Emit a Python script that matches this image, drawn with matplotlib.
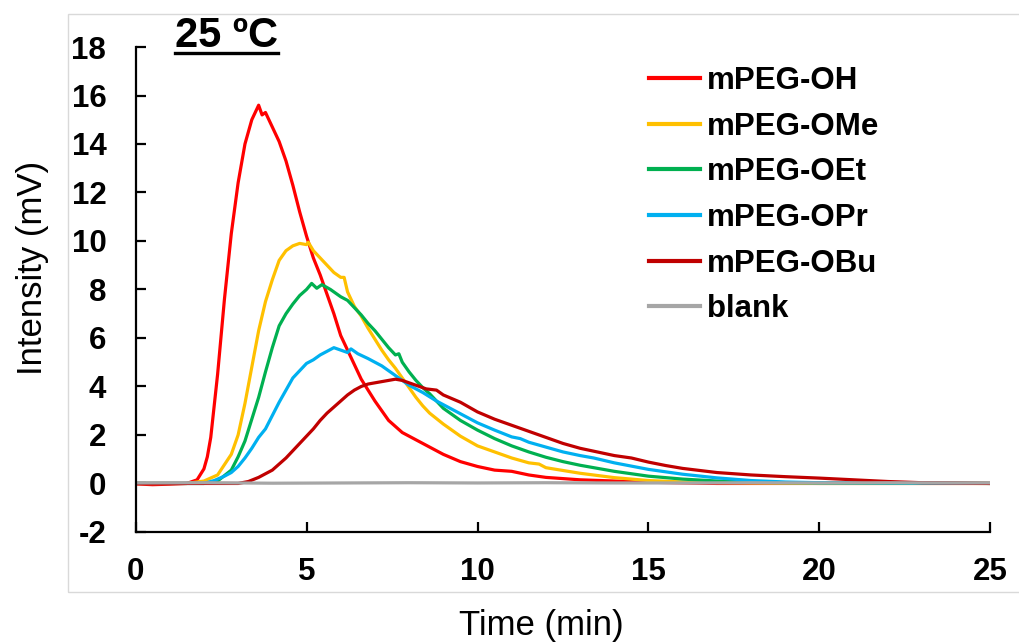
#!/usr/bin/env python3
"""
Release profiles of the mPEG series at 25 ºC
"""

import matplotlib
matplotlib.use("Agg")
import matplotlib.pyplot as plt
from matplotlib.patches import Rectangle
from matplotlib.lines import Line2D

# ---- data ----
t_oh = [0, 0.5, 1.0, 1.5, 1.8, 2.0, 2.1, 2.2, 2.4, 2.6, 2.8, 3.0, 3.2, 3.4, 3.6, 3.7,
        3.8, 4.0, 4.2, 4.4, 4.6, 4.8, 5.0, 5.2, 5.4, 5.6, 5.8, 6.0, 6.3, 6.6, 7.0, 7.4,
        7.8, 8.2, 8.6, 9.0, 9.5, 10.0, 10.5, 11.0, 11.5, 12.0, 13.0, 14.0, 15.0, 17.0,
        20.0, 25.0]
i_oh = [-0.02, -0.05, -0.03, 0.0, 0.15, 0.6, 1.1, 1.9, 4.5, 7.6, 10.3, 12.4, 14.0, 15.0,
        15.6, 15.2, 15.3, 14.7, 14.1, 13.3, 12.3, 11.2, 10.2, 9.3, 8.6, 7.8, 7.0, 6.1,
        5.2, 4.3, 3.4, 2.6, 2.1, 1.8, 1.5, 1.2, 0.9, 0.7, 0.55, 0.5, 0.35, 0.25, 0.15,
        0.1, 0.05, 0.0, 0.0, 0.0]

t_ome = [0, 1.5, 2.0, 2.4, 2.8, 3.0, 3.2, 3.4, 3.6, 3.8, 4.0, 4.2, 4.4, 4.6, 4.8, 5.0,
         5.05, 5.2, 5.4, 5.6, 5.8, 6.0, 6.1, 6.2, 6.4, 6.6, 6.8, 7.0, 7.2, 7.4, 7.6, 7.8,
         8.0, 8.2, 8.4, 8.6, 9.0, 9.5, 10.0, 10.5, 11.0, 11.5, 11.8, 12.0, 13.0, 14.0,
         15.0, 16.0, 18.0, 20.0, 25.0]
i_ome = [0, 0, 0.1, 0.35, 1.2, 2.0, 3.3, 4.8, 6.3, 7.5, 8.4, 9.2, 9.6, 9.8, 9.9, 9.85,
         9.95, 9.6, 9.3, 9.0, 8.7, 8.5, 8.5, 7.9, 7.3, 6.9, 6.4, 5.95, 5.5, 5.1, 4.75,
         4.35, 3.95, 3.55, 3.2, 2.9, 2.45, 1.95, 1.55, 1.3, 1.05, 0.85, 0.8, 0.65, 0.42,
         0.24, 0.12, 0.06, 0.02, 0.0, 0.0]

t_oet = [0, 2.0, 2.4, 2.8, 3.0, 3.2, 3.4, 3.6, 3.8, 4.0, 4.2, 4.4, 4.6, 4.8, 5.0, 5.15,
         5.3, 5.45, 5.7, 6.0, 6.2, 6.4, 6.6, 6.8, 7.0, 7.2, 7.4, 7.6, 7.7, 7.8, 8.0, 8.2,
         8.4, 8.6, 9.0, 9.5, 10.0, 10.5, 11.0, 11.5, 12.0, 12.5, 13.0, 14.0, 15.0, 16.0,
         17.0, 18.0, 20.0, 25.0]
i_oet = [0, 0, 0.1, 0.55, 1.1, 1.75, 2.65, 3.55, 4.6, 5.6, 6.5, 7.0, 7.4, 7.75, 8.0,
         8.25, 8.05, 8.2, 8.0, 7.7, 7.55, 7.25, 6.95, 6.6, 6.3, 5.95, 5.6, 5.3, 5.35, 5.0,
         4.6, 4.25, 3.95, 3.7, 3.1, 2.6, 2.2, 1.85, 1.55, 1.3, 1.08, 0.9, 0.75, 0.5, 0.3,
         0.18, 0.1, 0.05, 0.02, 0.0]

t_opr = [0, 2.0, 2.3, 2.6, 2.8, 3.0, 3.2, 3.4, 3.6, 3.8, 4.0, 4.2, 4.4, 4.6, 4.8, 5.0,
         5.2, 5.4, 5.6, 5.8, 6.0, 6.2, 6.3, 6.5, 6.8, 7.0, 7.2, 7.4, 7.6, 7.8, 8.0, 8.4,
         8.8, 9.2, 9.6, 10.0, 10.5, 11.0, 11.25, 11.5, 12.0, 12.5, 13.0, 13.4, 14.0,
         15.0, 16.0, 17.0, 18.0, 19.0, 20.0, 25.0]
i_opr = [0, 0, 0.12, 0.3, 0.45, 0.7, 1.05, 1.45, 1.9, 2.25, 2.8, 3.35, 3.85, 4.35, 4.65,
         4.95, 5.1, 5.3, 5.45, 5.6, 5.5, 5.4, 5.55, 5.35, 5.15, 5.0, 4.85, 4.65, 4.45,
         4.25, 4.05, 3.75, 3.4, 3.1, 2.8, 2.5, 2.2, 1.92, 1.85, 1.7, 1.5, 1.3, 1.15, 1.05,
         0.85, 0.58, 0.38, 0.23, 0.12, 0.06, 0.03, 0.0]

t_obu = [0, 2.5, 3.0, 3.3, 3.6, 3.8, 4.0, 4.2, 4.4, 4.6, 4.8, 5.0, 5.2, 5.4, 5.6, 5.8,
         6.0, 6.2, 6.4, 6.6, 6.8, 7.0, 7.2, 7.4, 7.6, 7.8, 8.0, 8.2, 8.5, 8.8, 9.0, 9.5,
         10.0, 10.5, 11.0, 11.5, 12.0, 12.5, 13.0, 13.5, 14.0, 14.5, 15.0, 15.5, 16.0,
         17.0, 18.0, 19.0, 20.0, 21.0, 22.0, 23.0, 25.0]
i_obu = [0, 0, 0.0, 0.08, 0.25, 0.4, 0.55, 0.8, 1.05, 1.35, 1.65, 1.95, 2.25, 2.6, 2.9,
         3.15, 3.4, 3.65, 3.85, 4.0, 4.1, 4.15, 4.2, 4.25, 4.3, 4.25, 4.15, 4.05, 3.9,
         3.85, 3.65, 3.35, 2.95, 2.65, 2.4, 2.15, 1.9, 1.65, 1.45, 1.3, 1.15, 1.05, 0.88,
         0.74, 0.62, 0.45, 0.35, 0.28, 0.22, 0.15, 0.08, 0.03, 0.0]

t_blank = [0, 2, 4, 6, 8, 10, 12, 14, 16, 18, 20, 22, 24, 25]
i_blank = [0.02, 0.03, 0.01, 0.02, 0.03, 0.02, 0.03, 0.02, 0.02, 0.03, 0.02, 0.03, 0.02, 0.02]

labels = ['mPEG-OH', 'mPEG-OMe', 'mPEG-OEt', 'mPEG-OPr', 'mPEG-OBu', 'blank']
colors = ['#FF0000', '#FFC000', '#00B050', '#00B0F0', '#C00000', '#A6A6A6']

x_ticks = [0, 5, 10, 15, 20, 25]
y_ticks = [-2, 0, 2, 4, 6, 8, 10, 12, 14, 16, 18]


def plot_profiles():
    plt.rcParams['font.family'] = ['Liberation Sans', 'DejaVu Sans']

    fig = plt.figure(figsize=(10.19, 6.44), dpi=100)
    ax = fig.add_axes([0.133, 0.174, 0.839, 0.753])

    # light chart-area border as in the spreadsheet export
    fig.patches.append(Rectangle((0.0667, 0.0807), 1.0, 0.897, transform=fig.transFigure,
                                 fill=False, edgecolor='#D9D9D9', linewidth=1.0))

    series = [(t_oh, i_oh), (t_ome, i_ome), (t_oet, i_oet),
              (t_opr, i_opr), (t_obu, i_obu), (t_blank, i_blank)]
    for (t, y), lab, c in zip(series, labels, colors):
        ax.plot(t, y, color=c, linewidth=2.3, label=lab, solid_joinstyle='round')

    ax.set_xlim(0, 25)
    ax.set_ylim(-2, 18)
    ax.set_xticks(x_ticks)
    ax.set_yticks(y_ticks)
    ax.set_xticklabels([str(v) for v in x_ticks])
    ax.set_yticklabels([str(v) for v in y_ticks])

    for side in ['top', 'right']:
        ax.spines[side].set_visible(False)
    for side in ['left', 'bottom']:
        ax.spines[side].set_linewidth(1.6)
    ax.tick_params(direction='in', length=7, width=1.6, labelsize=22.5)
    ax.tick_params(axis='x', pad=18)
    ax.tick_params(axis='y', pad=21)
    for lbl in ax.get_xticklabels() + ax.get_yticklabels():
        lbl.set_fontweight('bold')

    fig.text(33 / 1019, 1 - 268 / 644, 'Intensity (mV)', rotation=90,
             ha='center', va='center', fontsize=25)
    fig.text(541 / 1019, 1 - 625 / 644, 'Time (min)', ha='center', va='center',
             fontsize=25)

    title = fig.text(175 / 1019, 1 - 47 / 644, '25 ºC', ha='left', va='baseline',
                     fontsize=30, fontweight='bold')
    fig.canvas.draw()
    bb = title.get_window_extent().transformed(fig.transFigure.inverted())
    uy = 1 - 53 / 644
    fig.lines.append(Line2D([bb.x0, bb.x1], [uy, uy], transform=fig.transFigure,
                            color='black', linewidth=2.4))

    leg = ax.legend(loc='upper left', bbox_to_anchor=(649 / 1019, 1 - 66 / 644),
                    bbox_transform=fig.transFigure, frameon=False, borderpad=0,
                    borderaxespad=0, handlelength=1.63, handletextpad=0.22,
                    labelspacing=0.5, prop={'size': 22.5, 'weight': 'bold'})
    for h in leg.get_lines():
        h.set_linewidth(3.0)

    fig.savefig('out.png', dpi=100)
    plt.close(fig)


if __name__ == "__main__":
    plot_profiles()
